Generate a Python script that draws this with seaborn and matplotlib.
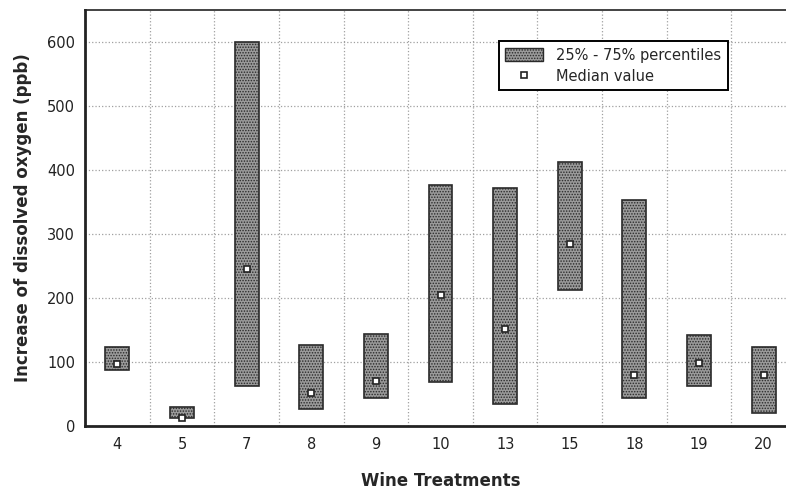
import matplotlib
matplotlib.use("Agg")
import matplotlib.pyplot as plt
import seaborn as sns
import numpy as np
import pandas as pd
from matplotlib.patches import Patch
from matplotlib.lines import Line2D
from matplotlib.ticker import FixedLocator

treatments = ["4", "5", "7", "8", "9", "10", "13", "15", "18", "19", "20"]
q25 = [88, 12, 63, 27, 43, 68, 34, 212, 43, 63, 21]
q75 = [124, 30, 600, 127, 143, 377, 372, 413, 353, 142, 124]
median = [97, 13, 245, 52, 71, 205, 151, 285, 80, 99, 80]

df = pd.DataFrame({
    "treatment": treatments,
    "q25": q25,
    "q75": q75,
    "median": median,
})
df["iqr"] = df["q75"] - df["q25"]

sns.set_style("white")
plt.rcParams["font.family"] = ["DejaVu Sans"]
plt.rcParams["hatch.linewidth"] = 0.7

fig = plt.figure(figsize=(7.86, 4.91), dpi=100)
ax = fig.add_axes([85 / 786, 65 / 491, 711 / 786, 416 / 491])

bar_face = "#9a9a9a"
bar_edge = "#2a2a2a"
sns.barplot(data=df, x="treatment", y="iqr", order=treatments, bottom=df["q25"].values,
            width=0.37, color=bar_face, edgecolor=bar_edge, linewidth=1.2,
            hatch="......", saturation=1, errorbar=None, ax=ax, zorder=3)

sns.pointplot(data=df, x="treatment", y="median", order=treatments, linestyle="none",
              markers="s", errorbar=None, color="black", markerfacecolor="white",
              markeredgecolor="#222222", markersize=4.5, markeredgewidth=1.2, ax=ax, zorder=4)

ax.set_xlim(-0.5, 10.5)
ax.set_ylim(0, 650)
ax.set_yticks([0, 100, 200, 300, 400, 500, 600])
ax.xaxis.set_minor_locator(FixedLocator(np.arange(-0.5, 11, 1.0)))
ax.grid(axis="y", which="major", linestyle=":", color="#a0a0a0", linewidth=0.9, zorder=0)
ax.grid(axis="x", which="minor", linestyle=":", color="#a0a0a0", linewidth=0.9, zorder=0)
ax.set_axisbelow(True)

for side in ["left", "bottom"]:
    ax.spines[side].set_linewidth(2.0)
    ax.spines[side].set_color("#222222")
ax.spines["top"].set_linewidth(1.2)
ax.spines["top"].set_color("#222222")
ax.spines["right"].set_visible(False)

ax.tick_params(axis="both", which="both", length=0, labelsize=10.5, colors="#222222")
ax.tick_params(axis="x", pad=8)
ax.tick_params(axis="y", pad=7)

ax.set_xlabel("Wine Treatments", fontsize=12, fontweight="bold", labelpad=14)
ax.set_ylabel("Increase of dissolved oxygen (ppb)", fontsize=12, fontweight="bold", labelpad=11)

handles = [
    Patch(facecolor=bar_face, edgecolor=bar_edge, hatch="......", linewidth=1.0,
          label="25% - 75% percentiles"),
    Line2D([], [], linestyle="none", marker="s", markerfacecolor="white",
           markeredgecolor="#222222", markersize=4.5, markeredgewidth=1.2,
           label="Median value"),
]
leg = ax.legend(handles=handles, loc="upper left", bbox_to_anchor=(0.582, 0.925),
                fontsize=10.5, frameon=True, fancybox=False, framealpha=1,
                edgecolor="black", borderpad=0.45, handlelength=2.6, handleheight=1.0,
                handletextpad=0.9, labelspacing=0.4, borderaxespad=0)
leg.get_frame().set_linewidth(1.4)

fig.savefig("out.png", dpi=100)
